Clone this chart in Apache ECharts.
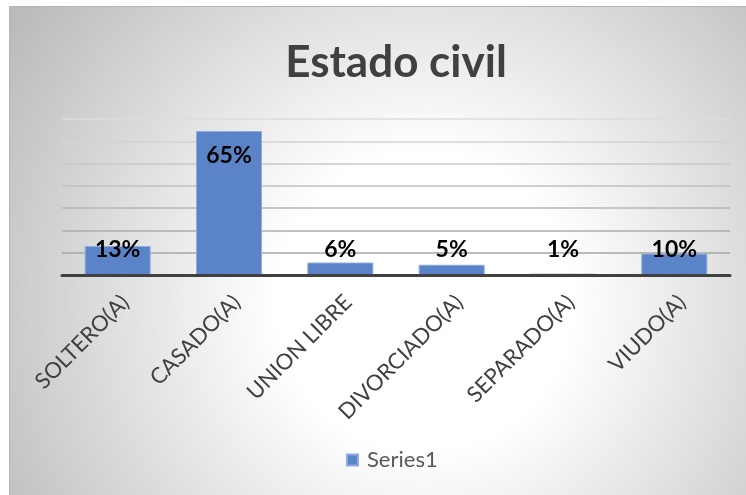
<!DOCTYPE html>
<html>
<head>
<meta charset="utf-8">
<script src="https://cdn.jsdelivr.net/npm/echarts@6/dist/echarts.min.js"></script>
<style>
html,body{margin:0;padding:0;background:#fff;}
#chart{width:746px;height:495px;}
</style>
</head>
<body>
<div id="chart"></div>
<script>
const titleText = 'Estado civil';
const seriesName = 'Series1';
const categories = ['SOLTERO(A)', 'CASADO(A)', 'UNION LIBRE', 'DIVORCIADO(A)', 'SEPARADO(A)', 'VIUDO(A)'];
const values = [0.13, 0.646, 0.056, 0.046, 0.006, 0.096];
const yMin = 0, yMax = 0.7, yInterval = 0.1;

const chart = echarts.init(document.getElementById('chart'), null, {renderer: 'canvas'});

const barData = values.map(v => ({
  value: v,
  label: v >= 0.3
    ? {position: 'insideTop', distance: 13}
    : {position: 'insideBottom', distance: 14}
}));

const option = {
  backgroundColor: '#ffffff',
  animation: false,
  graphic: [{
    type: 'rect',
    z: -100,
    silent: true,
    shape: {x: 9.5, y: 6.5, width: 740, height: 492},
    style: {
      fill: new echarts.graphic.RadialGradient(0.56, 0.6, 1.0, [
        {offset: 0, color: '#ffffff'},
        {offset: 0.3, color: '#ffffff'},
        {offset: 1, color: '#bbbbbb'}
      ]),
      stroke: '#b5b5b5',
      lineWidth: 1
    }
  }],
  title: {
    text: titleText,
    left: 391,
    textAlign: 'center',
    top: 36,
    textStyle: {fontFamily: 'Lato', fontWeight: 'bold', fontSize: 44, color: '#404040'}
  },
  legend: {
    data: [seriesName],
    left: 346,
    top: 449,
    padding: 0,
    icon: 'rect',
    itemWidth: 11,
    itemHeight: 11,
    textStyle: {fontFamily: 'Lato', fontSize: 22, color: '#595959', padding: [0, 0, 0, 4]}
  },
  grid: {left: 62, right: 16, top: 119, bottom: 220, containLabel: false},
  xAxis: {
    type: 'category',
    data: categories,
    z: 5,
    axisLine: {show: true, lineStyle: {color: '#404040', width: 3}},
    axisTick: {show: false},
    axisLabel: {
      interval: 0,
      rotate: 45,
      align: 'right',
      verticalAlign: 'top',
      margin: 16,
      fontFamily: 'Lato',
      fontSize: 22,
      color: '#404040'
    }
  },
  yAxis: {
    type: 'value',
    min: yMin,
    max: yMax,
    interval: yInterval,
    axisLine: {show: false},
    axisTick: {show: false},
    axisLabel: {show: false},
    splitLine: {
      show: true,
      lineStyle: {
        width: 1.5,
        color: ['#a6a6a6', '#a6a6a6', '#adadad', '#b6b6b6', '#c0c0c0', '#c9c9c9', '#d3d3d3', '#dddddd']
      }
    }
  },
  series: [{
    name: seriesName,
    type: 'bar',
    data: barData,
    barWidth: 66,
    itemStyle: {color: '#5B84C8', borderColor: '#8FAADC', borderWidth: 1},
    label: {
      show: true,
      formatter: p => Math.round(p.value * 100) + '%',
      fontFamily: 'Lato',
      fontWeight: 'bold',
      fontSize: 23,
      color: '#000000'
    }
  }]
};
chart.setOption(option);
</script>
</body>
</html>
